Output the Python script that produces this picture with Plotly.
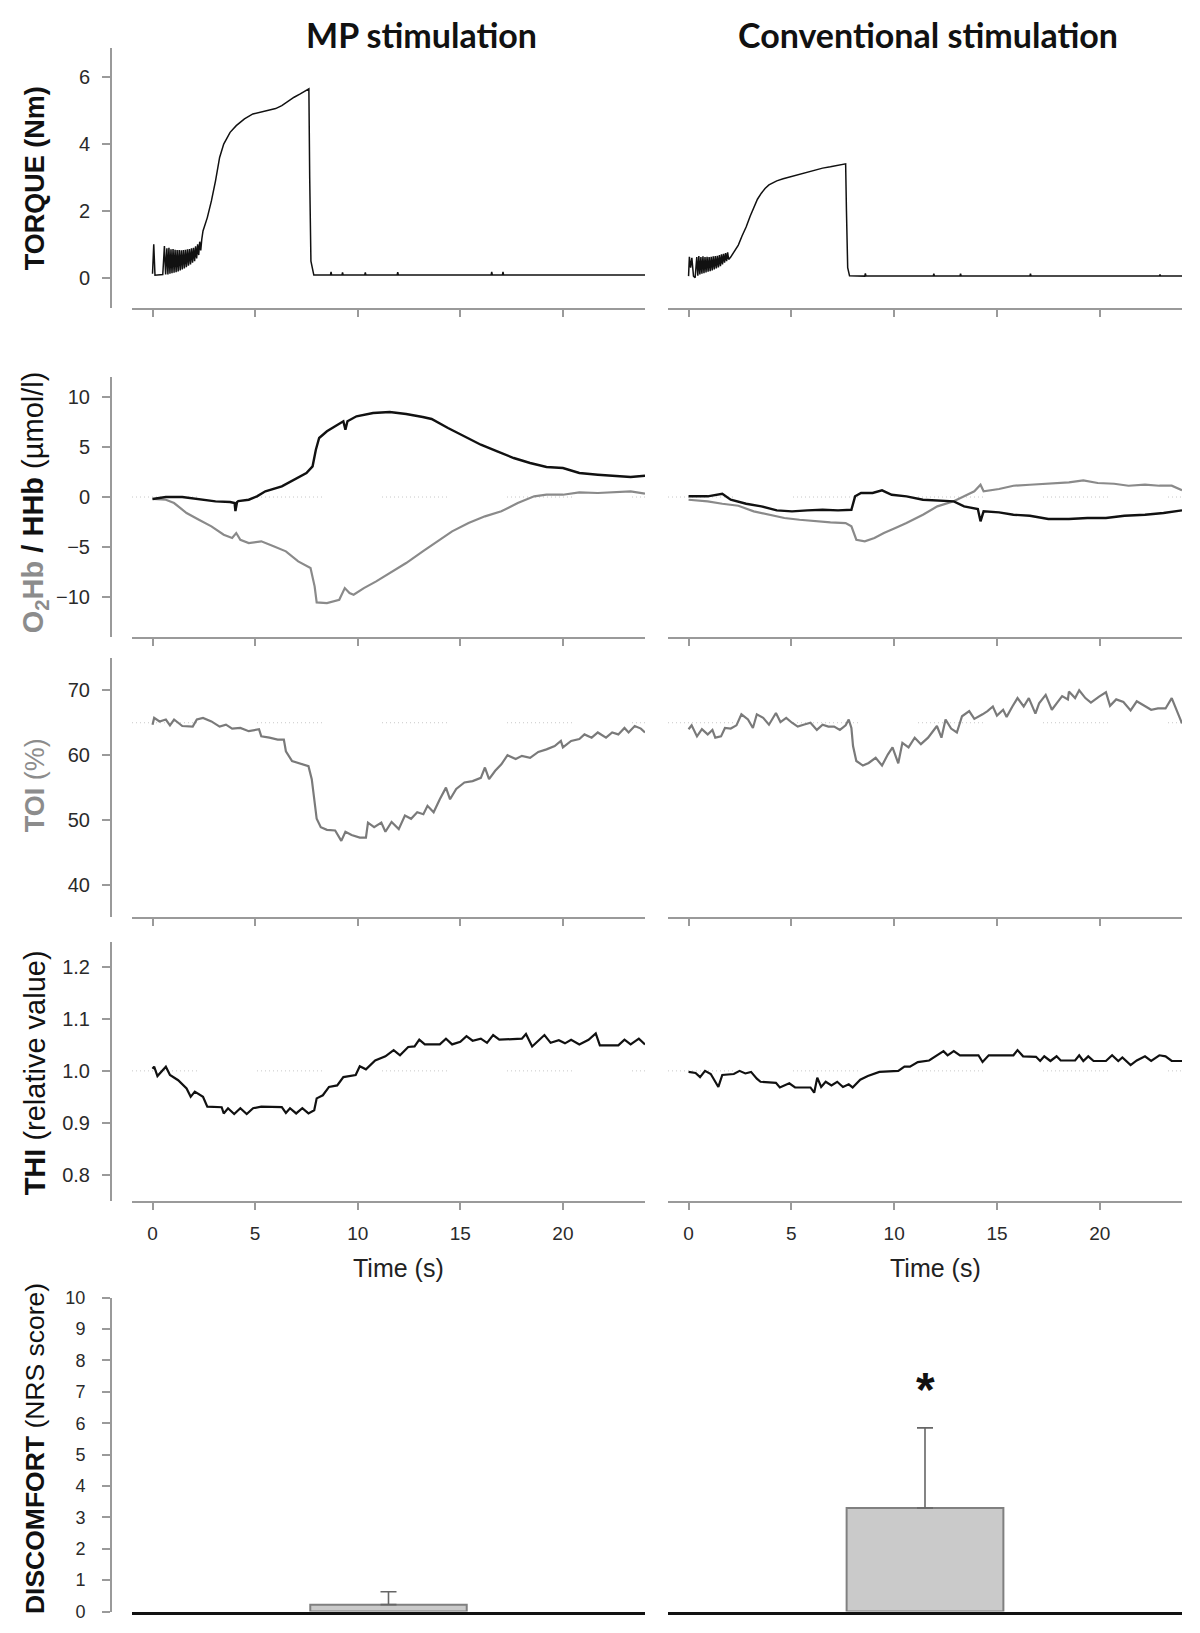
import plotly.graph_objects as go

# ---------------- data ----------------
time_ticks = [0, 5, 10, 15, 20]

# torque (Nm), MP stimulation
torque_mp_t = [0.00, 0.06, 0.12, 0.30, 0.50, 0.58, 0.64, 0.70, 0.75, 0.80, 0.85, 0.90, 0.95, 1.00,
               1.05, 1.10, 1.15, 1.20, 1.25, 1.30, 1.35, 1.40, 1.45, 1.50, 1.55, 1.60, 1.65, 1.70,
               1.75, 1.80, 1.85, 1.90, 1.95, 2.00, 2.05, 2.10, 2.15, 2.20, 2.25, 2.30, 2.35, 2.40,
               2.46, 2.67, 2.87, 3.07, 3.27, 3.47, 3.78, 4.08, 4.48, 4.89, 5.30, 5.70, 6.00, 6.30,
               6.60, 6.90, 7.20, 7.45, 7.62, 7.66, 7.72, 7.86, 8.67, 8.70, 8.73, 9.23, 9.26, 9.29,
               10.34, 10.37, 10.40, 11.92, 11.95, 11.98, 16.50, 16.53, 16.56, 17.05, 17.08, 17.11, 24.00]
torque_mp = [0.12, 1.00, 0.08, 0.08, 0.10, 0.95, 0.10, 0.88, 0.10, 0.90, 0.12, 0.85, 0.14, 0.86,
             0.15, 0.84, 0.17, 0.83, 0.19, 0.83, 0.22, 0.82, 0.25, 0.83, 0.28, 0.84, 0.32, 0.85,
             0.36, 0.86, 0.40, 0.88, 0.45, 0.90, 0.50, 0.94, 0.58, 1.00, 0.68, 1.08, 0.82, 1.15,
             1.40, 1.80, 2.30, 2.90, 3.60, 4.00, 4.35, 4.55, 4.75, 4.90, 4.96, 5.00, 5.06, 5.15,
             5.28, 5.40, 5.50, 5.58, 5.65, 3.00, 0.50, 0.08, 0.08, 0.18, 0.08, 0.08, 0.16, 0.08,
             0.08, 0.16, 0.08, 0.08, 0.17, 0.08, 0.08, 0.18, 0.08, 0.08, 0.18, 0.08, 0.08]

# torque (Nm), conventional stimulation
torque_conv_t = [0.00, 0.04, 0.10, 0.16, 0.24, 0.32, 0.40, 0.45, 0.50, 0.55, 0.60, 0.65, 0.70, 0.75,
                 0.80, 0.85, 0.90, 0.95, 1.00, 1.05, 1.10, 1.15, 1.20, 1.25, 1.30, 1.35, 1.40, 1.45,
                 1.50, 1.55, 1.60, 1.65, 1.70, 1.75, 1.80, 1.85, 1.90, 1.95, 2.05, 2.20, 2.42, 2.60,
                 2.80, 3.00, 3.17, 3.35, 3.54, 3.72, 3.91, 4.10, 4.29, 4.60, 5.03, 5.40, 5.78, 6.15,
                 6.52, 6.90, 7.27, 7.50, 7.64, 7.68, 7.74, 7.83, 8.57, 8.60, 8.63, 11.90, 11.93, 11.96,
                 13.20, 13.23, 13.26, 16.60, 16.63, 16.66, 22.90, 22.93, 22.96, 24.00]
torque_conv = [0.05, 0.63, 0.30, 0.60, 0.05, 0.00, 0.62, 0.06, 0.65, 0.10, 0.62, 0.12, 0.64, 0.14,
               0.62, 0.16, 0.63, 0.18, 0.62, 0.20, 0.63, 0.22, 0.64, 0.25, 0.65, 0.28, 0.66, 0.31,
               0.68, 0.35, 0.70, 0.40, 0.72, 0.45, 0.74, 0.50, 0.76, 0.55, 0.62, 0.78, 0.98, 1.25,
               1.52, 1.85, 2.12, 2.35, 2.53, 2.67, 2.78, 2.85, 2.90, 2.96, 3.03, 3.10, 3.16, 3.22,
               3.28, 3.32, 3.36, 3.39, 3.41, 2.00, 0.30, 0.06, 0.05, 0.13, 0.05, 0.05, 0.12, 0.05,
               0.05, 0.12, 0.05, 0.05, 0.12, 0.05, 0.05, 0.10, 0.05, 0.05]

# HHb (black) and O2Hb (grey), µmol/l, MP stimulation
hhb_mp_t = [0.0, 0.65, 1.45, 2.26, 3.07, 3.78, 4.00, 4.04, 4.12, 4.18, 4.69, 5.09, 5.50, 6.30, 6.90,
            7.50, 7.80, 7.96, 8.12, 8.50, 8.90, 9.30, 9.40, 9.50, 9.94, 10.75, 11.56, 12.36, 13.17,
            13.60, 14.40, 15.20, 16.00, 16.80, 17.60, 18.40, 19.20, 20.00, 20.80, 21.70, 22.50,
            23.30, 24.00]
hhb_mp = [-0.20, 0.00, 0.00, -0.20, -0.43, -0.50, -0.60, -1.40, -0.50, -0.40, -0.27, 0.07, 0.57,
          1.07, 1.73, 2.40, 3.07, 4.73, 5.90, 6.57, 7.07, 7.57, 6.73, 7.57, 8.07, 8.40, 8.50, 8.30,
          8.00, 7.80, 6.90, 6.07, 5.23, 4.57, 3.90, 3.40, 3.00, 2.90, 2.40, 2.23, 2.13, 2.00, 2.13]
o2hb_mp_t = [0.0, 0.65, 1.05, 1.66, 2.26, 2.87, 3.47, 3.88, 4.08, 4.28, 4.69, 5.30, 5.90, 6.50, 7.10,
             7.70, 7.90, 8.00, 8.50, 9.10, 9.37, 9.60, 9.80, 10.30, 10.90, 11.56, 12.36, 13.17,
             14.00, 14.60, 15.40, 16.20, 17.00, 17.80, 18.60, 19.20, 20.00, 20.80, 21.70, 22.50,
             23.30, 24.00]
o2hb_mp = [-0.20, -0.27, -0.60, -1.60, -2.27, -2.93, -3.77, -4.10, -3.60, -4.27, -4.60, -4.43,
           -4.93, -5.43, -6.43, -7.10, -8.93, -10.53, -10.60, -10.27, -9.10, -9.60, -9.77, -9.10,
           -8.43, -7.60, -6.60, -5.43, -4.27, -3.43, -2.60, -1.93, -1.43, -0.60, 0.07, 0.23, 0.23,
           0.47, 0.40, 0.47, 0.57, 0.33]

# HHb (black) and O2Hb (grey), µmol/l, conventional stimulation
hhb_conv_t = [0.0, 0.93, 1.64, 2.05, 2.80, 3.54, 4.29, 5.03, 5.78, 6.52, 7.27, 7.92, 8.10, 8.39,
              8.95, 9.41, 9.88, 10.60, 11.40, 12.10, 12.90, 13.40, 14.07, 14.20, 14.35, 15.10,
              15.80, 16.60, 17.50, 18.50, 19.40, 20.30, 21.20, 22.20, 23.10, 24.00]
hhb_conv = [0.07, 0.07, 0.33, -0.27, -0.67, -0.93, -1.33, -1.43, -1.33, -1.27, -1.33, -1.27, 0.07,
            0.40, 0.40, 0.67, 0.23, 0.07, -0.27, -0.33, -0.43, -0.93, -1.20, -2.43, -1.43, -1.53,
            -1.77, -1.87, -2.20, -2.20, -2.10, -2.10, -1.87, -1.77, -1.60, -1.33]
o2hb_conv_t = [0.0, 0.93, 1.64, 2.42, 3.17, 3.91, 4.66, 5.40, 6.15, 6.90, 7.64, 7.92, 8.16, 8.57,
               9.04, 9.50, 10.06, 10.60, 11.40, 12.10, 12.90, 13.40, 13.90, 14.20, 14.35, 15.10,
               15.80, 16.60, 17.50, 18.50, 19.20, 19.90, 20.70, 21.40, 22.20, 22.90, 23.50, 24.00]
o2hb_conv = [-0.27, -0.43, -0.67, -0.87, -1.43, -1.77, -2.10, -2.27, -2.43, -2.53, -2.60, -2.93,
             -4.27, -4.43, -4.10, -3.60, -3.10, -2.60, -1.77, -0.93, -0.43, 0.07, 0.57, 1.23, 0.57,
             0.80, 1.13, 1.23, 1.33, 1.47, 1.67, 1.40, 1.33, 1.13, 1.23, 1.13, 1.13, 0.67]

# TOI (%)
toi_mp_t = [0.0, 0.08, 0.34, 0.65, 0.85, 1.05, 1.45, 1.96, 2.16, 2.46, 2.87, 3.27, 3.58, 3.88, 4.28,
            4.69, 5.19, 5.30, 5.70, 6.10, 6.40, 6.50, 6.80, 7.10, 7.60, 7.76, 7.92, 8.00, 8.20, 8.50,
            8.90, 9.20, 9.40, 9.70, 10.10, 10.40, 10.50, 10.80, 11.15, 11.35, 11.65, 12.00, 12.30,
            12.60, 12.90, 13.20, 13.40, 13.70, 14.00, 14.30, 14.50, 14.80, 15.20, 15.60, 16.00,
            16.20, 16.40, 16.70, 17.00, 17.30, 17.70, 18.00, 18.40, 18.80, 19.20, 19.60, 19.90,
            20.00, 20.40, 20.80, 21.05, 21.40, 21.70, 22.10, 22.40, 22.70, 23.00, 23.20, 23.50,
            23.80, 24.00]
toi_mp = [64.7, 65.75, 65.2, 65.5, 64.6, 65.5, 64.5, 64.4, 65.5, 65.75, 65.2, 64.4, 64.7, 64.1, 64.2,
          63.7, 64.0, 62.9, 62.7, 62.4, 62.4, 60.6, 59.1, 58.8, 58.3, 56.3, 52.7, 50.2, 48.9, 48.5,
          48.4, 46.8, 48.2, 47.7, 47.3, 47.3, 49.6, 48.9, 49.6, 48.2, 49.7, 48.6, 50.7, 50.2, 51.2,
          50.9, 52.2, 51.2, 53.2, 55.0, 53.2, 54.8, 55.8, 56.0, 56.5, 58.1, 56.3, 57.6, 58.6, 60.0,
          59.4, 59.9, 59.6, 60.5, 60.9, 61.4, 62.2, 61.2, 62.2, 62.5, 63.2, 62.7, 63.5, 62.7, 63.5,
          63.2, 64.2, 63.5, 64.5, 64.1, 63.5]
toi_conv_t = [0.0, 0.15, 0.41, 0.65, 0.93, 1.16, 1.30, 1.58, 1.77, 2.05, 2.33, 2.57, 2.89, 3.13,
              3.32, 3.63, 3.91, 4.25, 4.47, 4.75, 5.03, 5.31, 5.59, 5.93, 6.24, 6.52, 6.80, 7.08,
              7.36, 7.64, 7.79, 7.92, 8.00, 8.16, 8.48, 8.76, 9.10, 9.41, 9.69, 9.92, 10.20, 10.40,
              10.70, 11.00, 11.30, 11.65, 12.08, 12.30, 12.50, 12.77, 13.05, 13.30, 13.65, 13.90,
              14.30, 14.54, 14.80, 15.00, 15.30, 15.47, 15.75, 16.00, 16.30, 16.55, 16.87, 17.05,
              17.37, 17.67, 17.93, 18.17, 18.45, 18.50, 18.80, 19.00, 19.30, 19.57, 19.95, 20.30,
              20.50, 20.80, 21.15, 21.50, 21.80, 22.20, 22.50, 22.83, 23.20, 23.50, 23.67, 24.00]
toi_conv = [64.0, 64.6, 62.9, 64.0, 63.2, 63.9, 62.7, 62.9, 64.2, 64.1, 64.6, 66.3, 65.5, 64.2,
            66.3, 65.75, 64.7, 66.5, 65.1, 65.75, 65.0, 64.4, 64.7, 65.0, 63.9, 64.7, 64.4, 64.4,
            63.9, 64.6, 65.5, 64.2, 61.4, 59.1, 58.4, 58.8, 59.6, 58.4, 60.1, 61.2, 58.75, 61.9,
            61.2, 62.7, 61.7, 62.7, 64.5, 62.7, 65.5, 64.1, 63.5, 66.0, 66.8, 65.6, 66.3, 66.8,
            67.5, 66.1, 67.0, 65.9, 67.5, 68.8, 67.5, 68.8, 66.4, 68.0, 69.3, 67.0, 68.1, 69.1,
            68.6, 69.8, 68.8, 70.0, 68.8, 68.1, 69.0, 69.7, 67.6, 68.6, 68.2, 66.9, 68.3, 67.6,
            67.0, 67.2, 67.2, 68.8, 67.5, 64.9]

# THI (relative value)
thi_mp_t = [0.0, 0.08, 0.24, 0.48, 0.65, 0.85, 1.25, 1.66, 1.86, 2.06, 2.46, 2.67, 3.07, 3.37,
            3.47, 3.68, 3.98, 4.28, 4.59, 4.90, 5.30, 6.30, 6.50, 6.70, 7.00, 7.30, 7.60, 7.88,
            8.00, 8.30, 8.60, 9.00, 9.30, 9.90, 10.10, 10.40, 10.85, 11.35, 11.75, 12.06, 12.46,
            12.77, 13.00, 13.27, 14.00, 14.30, 14.60, 15.00, 15.30, 15.60, 16.00, 16.30, 16.60,
            16.90, 18.00, 18.20, 18.50, 18.80, 19.10, 19.40, 19.80, 20.10, 20.40, 20.80, 21.25,
            21.60, 21.80, 22.70, 23.00, 23.30, 23.70, 24.00]
thi_mp = [1.004, 1.008, 0.990, 1.000, 1.008, 0.992, 0.982, 0.966, 0.950, 0.960, 0.950, 0.931,
          0.930, 0.930, 0.918, 0.928, 0.917, 0.928, 0.917, 0.928, 0.931, 0.930, 0.919, 0.928,
          0.918, 0.928, 0.918, 0.924, 0.947, 0.953, 0.969, 0.972, 0.988, 0.992, 1.009, 1.003,
          1.020, 1.028, 1.040, 1.030, 1.046, 1.047, 1.060, 1.051, 1.051, 1.062, 1.051, 1.056,
          1.067, 1.058, 1.062, 1.054, 1.069, 1.060, 1.062, 1.071, 1.047, 1.058, 1.069, 1.054,
          1.059, 1.053, 1.060, 1.051, 1.060, 1.072, 1.049, 1.049, 1.060, 1.051, 1.062, 1.051]
thi_conv_t = [0.0, 0.34, 0.56, 0.80, 1.08, 1.27, 1.45, 1.64, 2.20, 2.48, 2.76, 3.04, 3.32, 3.50,
              4.25, 4.44, 4.90, 5.18, 5.93, 6.11, 6.26, 6.45, 6.67, 6.95, 7.23, 7.51, 7.79, 7.98,
              8.35, 8.72, 9.28, 10.20, 10.50, 10.77, 11.15, 11.70, 12.00, 12.40, 12.60, 12.90,
              13.20, 14.10, 14.30, 14.60, 15.80, 16.00, 16.27, 16.90, 17.10, 17.30, 17.60, 17.90,
              18.10, 18.80, 19.00, 19.20, 19.44, 19.70, 20.30, 20.60, 20.90, 21.10, 21.50, 21.80,
              22.20, 22.50, 22.90, 23.20, 23.50, 24.00]
thi_conv = [0.998, 0.996, 0.988, 1.000, 0.994, 0.982, 0.969, 0.992, 0.994, 1.000, 0.995, 0.998,
            0.985, 0.979, 0.977, 0.968, 0.976, 0.968, 0.968, 0.958, 0.987, 0.969, 0.979, 0.972,
            0.979, 0.969, 0.974, 0.968, 0.983, 0.990, 0.998, 1.000, 1.008, 1.008, 1.017, 1.020,
            1.028, 1.038, 1.030, 1.038, 1.030, 1.030, 1.017, 1.030, 1.030, 1.040, 1.028, 1.027,
            1.019, 1.028, 1.019, 1.028, 1.020, 1.020, 1.030, 1.019, 1.028, 1.019, 1.019, 1.030,
            1.019, 1.026, 1.011, 1.020, 1.028, 1.019, 1.030, 1.028, 1.019, 1.019]

# discomfort (NRS score), mean and SD
groups = ["MP stimulation", "Conventional stimulation"]
discomfort_mean = [0.22, 3.30]
discomfort_sd = [0.41, 2.55]
signif = ["", "*"]

# baselines drawn as faint dotted lines
baseline_o2 = 0
baseline_toi = 65
baseline_thi = 1.0

# ---------------- layout helpers ----------------
W, H = 1200, 1633
BLACK = "#111111"
GREY = "#8a8a8a"
AX = "#9a9a9a"
TICKFONT = dict(family="Liberation Sans, Arial, sans-serif", size=20, color="#2a2a2a")
LABELFONT = "Liberation Sans, Arial, sans-serif"

# the page capture shifts and squeezes the picture a little vertically;
# the pixel positions used below are where things should land in the picture
Y_OFF, Y_SQ = 9.12, 0.99103


def fx(p):
    return p / W


def fy(p):
    return 1 - ((p - Y_OFF) / Y_SQ) / H


col_dom = [[fx(132), fx(645)], [fx(668), fx(1182)]]
# (top px, bottom px, y range, tick values)
rows = [
    (47, 308, [-0.90, 6.88], [0, 2, 4, 6]),
    (377, 638, [-13.97, 12.03], [-10, -5, 0, 5, 10]),
    (659, 919, [35.08, 75.02], [40, 50, 60, 70]),
    (944, 1204, [0.7495, 1.2486], [0.8, 0.9, 1.0, 1.1, 1.2]),
    (1301, 1616, [0, 10], list(range(0, 11))),
]

fig = go.Figure()
layout = dict(width=W, height=H, margin=dict(l=0, r=0, t=0, b=0), autosize=False,
              plot_bgcolor="white", paper_bgcolor="white", showlegend=False,
              annotations=[], shapes=[])

for r, (top, bot, yr, yt) in enumerate(rows, start=1):
    for c in (1, 2):
        k = 2 * (r - 1) + c
        if r < 5:
            xa = dict(domain=col_dom[c - 1], range=[-1, 24], anchor=f"y{k}",
                      showline=True, linecolor=AX, linewidth=2, ticks="outside",
                      tickcolor=AX, tickwidth=1.5, ticklen=7, tickvals=time_ticks,
                      showticklabels=(r == 4), tickfont=dict(TICKFONT, size=19),
                      ticklabelstandoff=7, showgrid=False, zeroline=False)
        else:
            xa = dict(domain=col_dom[c - 1], range=[-0.5, 0.5], anchor=f"y{k}",
                      type="category", showline=True, linecolor=BLACK, linewidth=2.5,
                      ticks="", showticklabels=False, showgrid=False, zeroline=False)
        ya = dict(domain=[fy(bot), fy(top)], range=yr, showgrid=False, zeroline=False)
        if c == 1:
            ya.update(anchor="free", position=fx(111), showline=True, linecolor=AX,
                      linewidth=2, ticks="outside", tickcolor=AX, tickwidth=1.5, ticklen=8,
                      tickvals=yt, tickfont=TICKFONT if r < 5 else dict(TICKFONT, size=18),
                      ticklabelstandoff=8 if r < 5 else 13)
            if r == 4:
                ya["tickformat"] = ".1f"
        else:
            ya.update(anchor=f"x{k}", visible=False)
        layout[f"xaxis{k}"] = xa
        layout[f"yaxis{k}"] = ya


def line(k, t, v, color, width):
    fig.add_trace(go.Scatter(x=t, y=v, mode="lines", xaxis=f"x{k}", yaxis=f"y{k}",
                             line=dict(color=color, width=width), hoverinfo="skip"))


# faint baselines
seg = ",".join(["1px,3px"] * 16) + ",1px,60px"
for k, lev in [(3, baseline_o2), (4, baseline_o2), (5, baseline_toi), (6, baseline_toi),
               (7, baseline_thi), (8, baseline_thi)]:
    layout["shapes"].append(dict(type="line", xref=f"x{k} domain", yref=f"y{k}", x0=0, x1=1,
                                 y0=lev, y1=lev, line=dict(color="#c8c8c8", width=1, dash=seg),
                                 layer="below"))

line(1, torque_mp_t, torque_mp, BLACK, 1.5)
line(2, torque_conv_t, torque_conv, BLACK, 1.5)
line(3, o2hb_mp_t, o2hb_mp, GREY, 2.2)
line(3, hhb_mp_t, hhb_mp, BLACK, 2.4)
line(4, o2hb_conv_t, o2hb_conv, GREY, 2.2)
line(4, hhb_conv_t, hhb_conv, BLACK, 2.4)
line(5, toi_mp_t, toi_mp, "#7a7a7a", 2.2)
line(6, toi_conv_t, toi_conv, "#7a7a7a", 2.2)
line(7, thi_mp_t, thi_mp, BLACK, 2.2)
line(8, thi_conv_t, thi_conv, BLACK, 2.2)

for i, g in enumerate(groups):
    k = 9 + i
    fig.add_trace(go.Bar(x=[g], y=[discomfort_mean[i]], width=0.305, xaxis=f"x{k}",
                         yaxis=f"y{k}", marker=dict(color="#cacaca",
                                                     line=dict(color="#808080", width=2)),
                         error_y=dict(type="data", array=[discomfort_sd[i]], arrayminus=[0],
                                      symmetric=False, color="#666666", thickness=1.6,
                                      width=8),
                         hoverinfo="skip"))
    if signif[i]:
        layout["annotations"].append(dict(
            text=f"<b>{signif[i]}</b>", x=g, y=7.33, xref=f"x{k}", yref=f"y{k}",
            showarrow=False, yanchor="middle", yshift=-8,
            font=dict(family="Liberation Sans, Arial", size=48, color=BLACK)))

# panel titles
for txt, xc in [("MP stimulation", 421), ("Conventional stimulation", 928)]:
    layout["annotations"].append(dict(text=f"<b>{txt}</b>", x=fx(xc), y=fy(34), xref="paper",
                                      yref="paper", showarrow=False, xanchor="center",
                                      yanchor="middle",
                                      font=dict(family="Lato, Open Sans, sans-serif", size=34,
                                                color=BLACK)))

# time axis titles
for k in (7, 8):
    layout["annotations"].append(dict(text="Time (s)", x=12, y=fy(1271), xref=f"x{k}",
                                      yref="paper", showarrow=False, yanchor="middle",
                                      font=dict(family="Liberation Sans, Arial", size=25,
                                                color="#222222")))

# y-axis titles: (text, centre y px, colour, size)
GREY_TXT = "#8c8c8c"
ylabels = [
    ("<b>TORQUE (Nm)</b>", 178, BLACK, 27),
    (f"<b><span style='color:{GREY_TXT}'>O<sub>2</sub>Hb</span> / HHb</b> (µmol/l)", 503, BLACK, 29),
    ("<b>TOI</b> (%)", 787, GREY_TXT, 27),
    ("<b>THI</b> (relative value)", 1076, BLACK, 29),
    ("<b>DISCOMFORT</b> (NRS score)", 1453, BLACK, 26.5),
]
for txt, yc, col, sz in ylabels:
    layout["annotations"].append(dict(text=txt, x=fx(35), y=fy(yc), xref="paper", yref="paper",
                                      showarrow=False, textangle=-90, xanchor="center",
                                      yanchor="middle",
                                      font=dict(family=LABELFONT, size=sz, color=col)))

fig.update_layout(**layout)
# pin the graph to the page's top-left corner
fig.write_html("out.html", config={"displayModeBar": False},
               post_script="var gd=document.getElementById('{plot_id}');"
                           "gd.style.position='absolute';gd.style.top='0px';"
                           "gd.style.left='0px';"
                           "document.body.style.margin='0px';"
                           "document.body.style.overflow='hidden';")
